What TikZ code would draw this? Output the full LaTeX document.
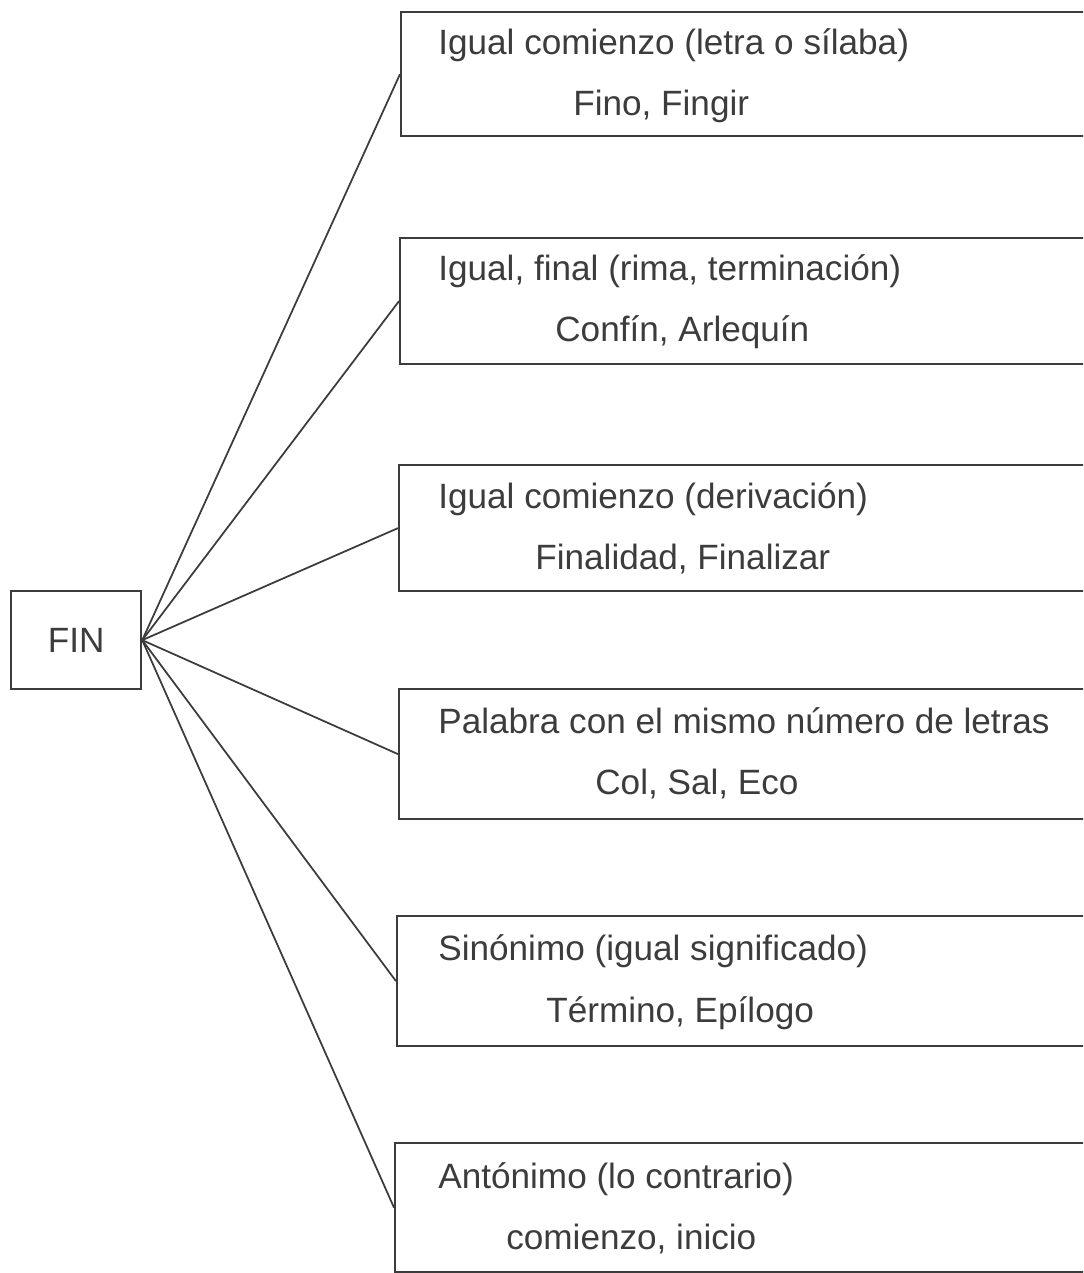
\documentclass[tikz,border=0pt]{standalone}
\usepackage{fontspec}
\setmainfont{Liberation Sans}
\usetikzlibrary{positioning}
\definecolor{ink}{HTML}{3C3C3C}
\tikzset{
  catbox/.style={draw=ink, line width=1.3pt, rectangle, anchor=north west, minimum width=14cm, inner sep=0pt},
  rootbox/.style={draw=ink, line width=1.3pt, rectangle, anchor=north west, minimum width=2.6cm, minimum height=1.96cm, inner sep=0pt},
  lbl/.style={anchor=base west, inner sep=0pt, text=ink, font=\fontsize{20}{24}\selectfont},
  link/.style={draw=ink, line width=1pt}
}

\begin{document}
\begin{tikzpicture}[x=0.02cm, y=-0.02cm]
	\useasboundingbox (0,0) rectangle (1083,1273);
	\clip (0,0) rectangle (1083,1273);

	% root
	\node [rootbox] (fin) at (10,590) {};
	\node [lbl, anchor=center] (fintxt) at (fin.center) {FIN};

	% categories
	\node [catbox, minimum height=2.48cm] (b1) at (400,11) {};
	\node [catbox, minimum height=2.52cm] (b2) at (399,237) {};
	\node [catbox, minimum height=2.52cm] (b3) at (398,464) {};
	\node [catbox, minimum height=2.6cm] (b4) at (398,688) {};
	\node [catbox, minimum height=2.6cm] (b5) at (396,915) {};
	\node [catbox, minimum height=2.58cm] (b6) at (394,1142) {};

	\node [lbl] (t1) at (438,55) {Igual comienzo (letra o sílaba)};
	\node [lbl] (e1) at (573,116) {Fino, Fingir};
	\node [lbl] (t2) at (438,281) {Igual, final (rima, terminación)};
	\node [lbl] (e2) at (555,342) {Confín, Arlequín};
	\node [lbl] (t3) at (438,508) {Igual comienzo (derivación)};
	\node [lbl] (e3) at (535,569) {Finalidad, Finalizar};
	\node [lbl] (t4) at (438,733) {Palabra con el mismo número de letras};
	\node [lbl] (e4) at (595,794) {Col, Sal, Eco};
	\node [lbl] (t5) at (438,960) {Sinónimo (igual significado)};
	\node [lbl] (e5) at (546,1022) {Término, Epílogo};
	\node [lbl] (t6) at (438,1188) {Antónimo (lo contrario)};
	\node [lbl] (e6) at (506,1249) {comienzo, inicio};

	\foreach \b in {b1,b2,b3,b4,b5,b6}
		\draw [link] (fin.east) -- (\b.west);
\end{tikzpicture}
\end{document}
